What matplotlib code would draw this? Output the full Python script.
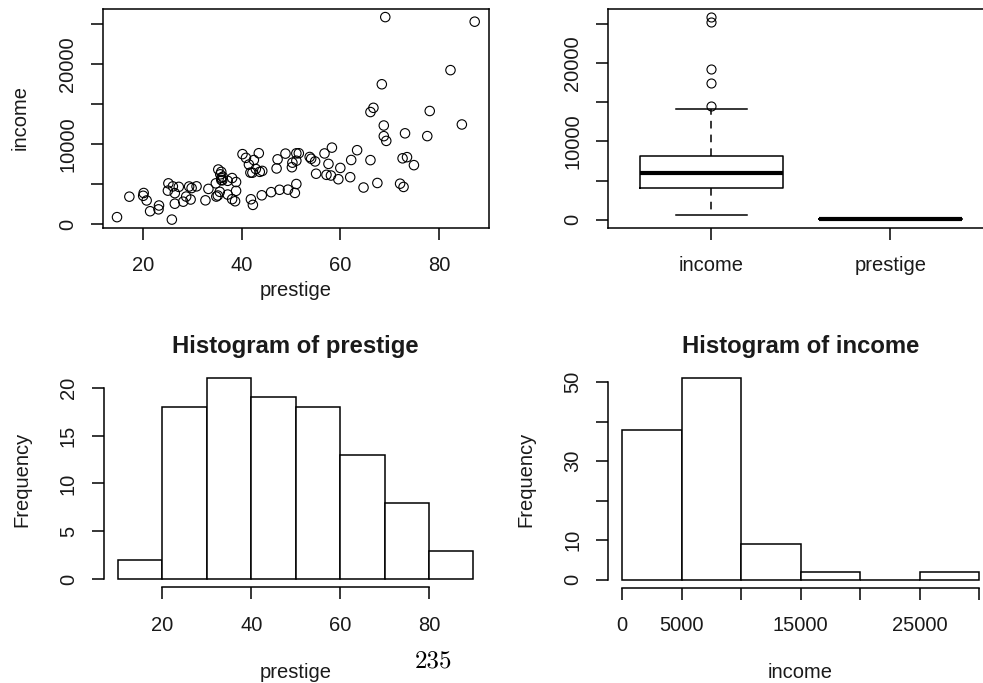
import numpy as np
import matplotlib
matplotlib.use("Agg")
from matplotlib import pyplot as plt

# data: prestige vs income for 102 occupations
prestige = [68.8, 69.1, 63.4, 56.8, 73.5, 77.6, 72.6, 78.1, 73.1, 68.8,
            62.0, 60.0, 53.8, 62.2, 74.9, 55.1, 82.3, 58.1, 58.3, 72.8,
            84.6, 59.6, 66.1, 87.2, 66.7, 68.4, 64.7, 34.9, 72.1, 69.3,
            67.5, 57.2, 57.6, 54.1, 46.0, 41.9, 49.4, 42.3, 47.7, 30.9,
            32.7, 38.7, 36.1, 37.2, 38.1, 29.4, 51.1, 35.7, 35.6, 41.5,
            40.2, 26.5, 14.8, 23.3, 47.3, 47.1, 51.1, 43.5, 51.6, 29.7,
            20.2, 54.9, 25.9, 20.8, 17.3, 20.1, 44.1, 21.5, 35.3, 38.9,
            25.2, 34.8, 23.2, 33.3, 28.8, 42.5, 44.2, 35.9, 41.8, 35.9,
            43.7, 50.8, 37.2, 28.2, 38.1, 50.3, 27.3, 40.9, 50.2, 51.1,
            38.9, 36.2, 29.9, 42.9, 26.5, 66.1, 48.9, 35.9, 25.1, 26.1,
            42.2, 35.2]
income = [12351, 25879, 9271, 8865, 8403, 11030, 8258, 14163, 11377, 11023,
          5902, 7059, 8425, 8049, 7405, 6336, 19263, 6112, 9593, 4686,
          12480, 5648, 8034, 25308, 14558, 17498, 4614, 3485, 5092, 10432,
          5180, 6197, 7562, 8206, 4036, 3148, 4348, 2448, 4330, 4761,
          3016, 2901, 5511, 3739, 3161, 4741, 5052, 6259, 4075, 7482,
          8780, 2594, 918, 2370, 8131, 6992, 7956, 8895, 8891, 3116,
          3930, 7869, 611, 3000, 3472, 3582, 3643, 1656, 6860, 4199,
          5134, 5134, 1890, 4443, 3485, 8043, 6686, 6565, 6477, 5811,
          6573, 3942, 5449, 2847, 5795, 7716, 4696, 8316, 7147, 8880,
          5299, 5959, 4549, 6928, 3910, 14032, 8845, 5562, 4224, 4753,
          6462, 3617]

# histogram counts
prestige_breaks = [10, 20, 30, 40, 50, 60, 70, 80, 90]
prestige_counts = [2, 18, 21, 19, 18, 13, 8, 3]
income_breaks = [0, 5000, 10000, 15000, 20000, 25000, 30000]
income_counts = [38, 51, 9, 2, 0, 2]

plt.rcParams['font.family'] = ['Liberation Sans', 'DejaVu Sans']
plt.rcParams['font.size'] = 14.5
plt.rcParams['text.color'] = '#1a1a1a'
plt.rcParams['xtick.labelcolor'] = '#1a1a1a'
plt.rcParams['ytick.labelcolor'] = '#1a1a1a'
plt.rcParams['axes.linewidth'] = 1.1
plt.rcParams['xtick.major.size'] = 8.5
plt.rcParams['ytick.major.size'] = 8.5
plt.rcParams['xtick.major.width'] = 1.1
plt.rcParams['ytick.major.width'] = 1.1

W, H = 983, 683
fig = plt.figure(figsize=(W / 100, H / 100), dpi=100)


def add_ax(left, right, top, bottom):
    return fig.add_axes([left / W, 1 - bottom / H, (right - left) / W, (bottom - top) / H])


def rpad(lo, hi):
    d = (hi - lo) * 0.04
    return lo - d, hi + d


def fig_label(text, x, y, rot=0, **kw):
    fig.text(x / W, 1 - y / H, text, rotation=rot, ha='center', va='center', **kw)


def style_ticks(ax):
    ax.tick_params(axis='x', pad=12)
    ax.tick_params(axis='y', pad=10, labelrotation=90)
    for lab in ax.get_yticklabels():
        lab.set_va('center')


# scatter
ax1 = add_ax(102.7, 489, 9, 227.7)
ax1.scatter(prestige, income, s=46, facecolors='none', edgecolors='black', linewidths=0.8)
ax1.set_xlim(*rpad(min(prestige), max(prestige)))
ax1.set_ylim(*rpad(min(income), max(income)))
ax1.set_xticks([20, 40, 60, 80])
ax1.set_yticks([0, 5000, 10000, 15000, 20000, 25000])
ax1.set_yticklabels(['0', '', '10000', '', '20000', ''])
style_ticks(ax1)
fig_label('prestige', 296, 290)
fig_label('income', 20, 118, rot=90)

# boxplot
ax2 = add_ax(607.7, 994, 9, 227.7)
ax2.boxplot([income, prestige], positions=[1, 2], widths=0.8, capwidths=0.4,
            boxprops=dict(color='black', linewidth=1.1),
            medianprops=dict(color='black', linewidth=3.0, solid_capstyle='butt'),
            whiskerprops=dict(color='black', linewidth=1.1, linestyle=(0, (5, 4))),
            capprops=dict(color='black', linewidth=1.1),
            flierprops=dict(marker='o', markersize=6.5, markerfacecolor='none',
                            markeredgecolor='black', markeredgewidth=0.8))
ax2.set_xlim(0.42, 2.58)
ax2.set_ylim(*rpad(min(prestige), max(income)))
ax2.set_xticks([1, 2])
ax2.set_xticklabels(['income', 'prestige'])
ax2.set_yticks([0, 5000, 10000, 15000, 20000, 25000])
ax2.set_yticklabels(['0', '', '10000', '', '20000', ''])
style_ticks(ax2)


def hist_axes(ax, breaks, counts, xticks, xlabels, yticks, ylabels):
    ax.bar(breaks[:-1], counts, width=np.diff(breaks), align='edge',
           facecolor='white', edgecolor='black', linewidth=1.1)
    ax.set_xlim(*rpad(breaks[0], breaks[-1]))
    ax.set_ylim(*rpad(0, max(counts)))
    ax.set_xticks(xticks)
    ax.set_xticklabels(xlabels)
    ax.set_yticks(yticks)
    ax.set_yticklabels(ylabels)
    for s in ['top', 'right']:
        ax.spines[s].set_visible(False)
    ax.spines['bottom'].set_bounds(xticks[0], xticks[-1])
    ax.spines['left'].set_bounds(yticks[0], yticks[-1])
    style_ticks(ax)


ax3 = add_ax(103.6, 487.7, 370.1, 587.3)
hist_axes(ax3, prestige_breaks, prestige_counts, [20, 40, 60, 80], ['20', '40', '60', '80'],
          [0, 5, 10, 15, 20], ['0', '5', '10', '15', '20'])
fig_label('Histogram of prestige', 295.6, 347, fontsize=17.2, fontweight='bold')
fig_label('Frequency', 22, 479, rot=90)
fig_label('prestige', 296, 673)

ax4 = add_ax(608, 993.6, 370.2, 587.8)
hist_axes(ax4, income_breaks, income_counts, income_breaks,
          ['0', '5000', '', '15000', '', '25000', ''],
          [0, 10, 20, 30, 40, 50], ['0', '10', '', '30', '', '50'])
fig_label('Histogram of income', 800.8, 347, fontsize=17.2, fontweight='bold')
fig_label('Frequency', 526, 479, rot=90)
fig_label('income', 800, 673)

# page number
fig.text(433 / W, 1 - 661 / H, '235', family='cmr10', fontsize=18, color='black',
         ha='center', va='center')

fig.savefig('out.png', dpi=100)
